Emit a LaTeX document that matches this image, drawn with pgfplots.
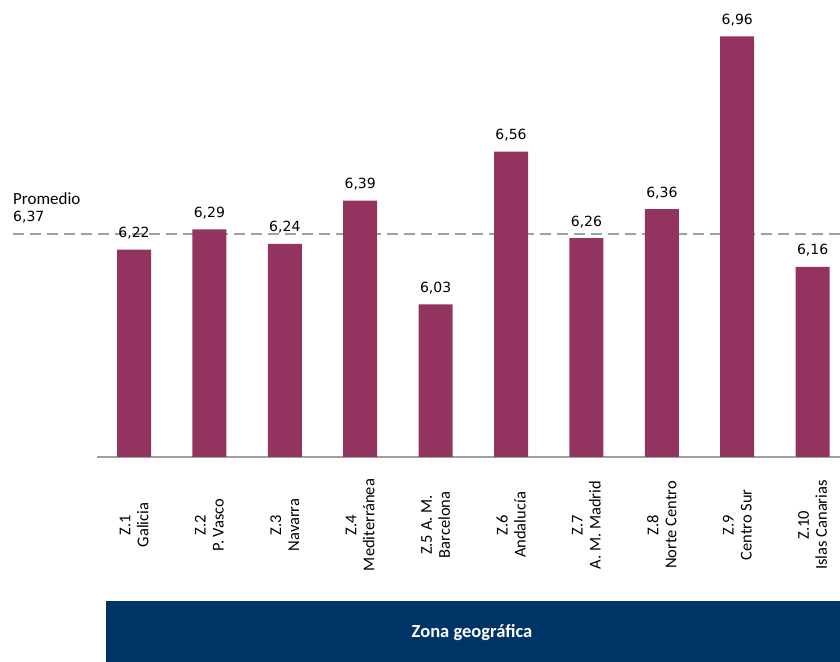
\documentclass[border=0pt]{standalone}
\usepackage{pgfplots}
\pgfplotsset{compat=1.18}
\usepackage{fontspec}
\setmainfont{Carlito}
\newfontfamily\dejavu{DejaVu Sans}
\definecolor{barc}{RGB}{147,52,96}
\definecolor{navy}{RGB}{0,52,102}
\definecolor{axgray}{RGB}{160,160,160}
\begin{document}
\begin{tikzpicture}
\path[use as bounding box] (0,0) rectangle (840bp,662bp);
\fill[navy] (106bp,0bp) rectangle (840bp,61bp);
\node[text=white, font=\bfseries\fontsize{18.5bp}{20bp}\selectfont] at (472bp,29bp) {Zona geográfica};
\node[anchor=base west, align=left, inner sep=0pt, font=\fontsize{17bp}{17bp}\selectfont] at (13bp,457bp) {Promedio};
\node[anchor=base west, inner sep=0pt, font=\dejavu\fontsize{14bp}{17bp}\selectfont] at (13bp,440bp) {6,37};
\begin{axis}[
  at={(97bp,205bp)}, anchor=south west,
  scale only axis, width=743bp, height=457bp,
  xmin=-0.491, xmax=9.363, ymin=5.5, ymax=7.086,
  clip=false,
  axis y line=none,
  axis x line*=bottom,
  x axis line style={draw=axgray, line width=1.8bp, -},
  major tick length=0pt,
  ytick=\empty,
  xtick={0,1,2,3,4,5,6,7,8,9},
  xticklabels={{Z.1\\Galicia},{Z.2\\P. Vasco},{Z.3\\Navarra},{Z.4\\Mediterránea},{Z.5 A. M.\\Barcelona},{Z.6\\Andalucía},{Z.7\\A. M. Madrid},{Z.8\\Norte Centro},{Z.9\\Centro Sur},{Z.10\\Islas Canarias}},
  xticklabel style={yshift=-68bp, rotate=90, anchor=center, align=center, inner sep=0pt, font=\fontsize{16.5bp}{18bp}\selectfont},
]
\addplot[draw=axgray, line width=1.5bp, dash pattern=on 11bp off 6bp, forget plot] coordinates {(-1.605,6.274) (9.363,6.274)};
\addplot[ybar, bar width=34bp, fill=barc, draw=none,
  nodes near coords={\pgfmathprintnumber[use comma,fixed,fixed zerofill,precision=2,assume math mode=true]{\pgfplotspointmeta}},
  every node near coord/.append style={anchor=base, inner sep=0pt, yshift=12bp, text=black, font=\dejavu\fontsize{14bp}{16bp}\selectfont}]
  coordinates {(0,6.22) (1,6.29) (2,6.24) (3,6.39) (4,6.03) (5,6.56) (6,6.26) (7,6.36) (8,6.96) (9,6.16)};
\end{axis}
\end{tikzpicture}
\end{document}
